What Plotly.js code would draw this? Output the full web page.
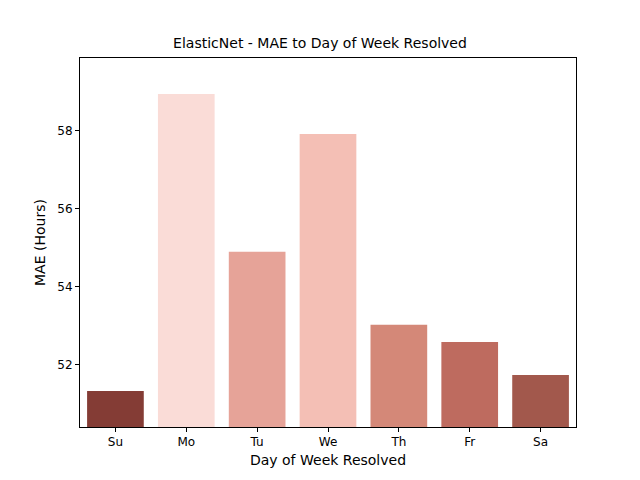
<!DOCTYPE html>
<html>
<head>
<meta charset="utf-8">
<script src="https://cdn.plot.ly/plotly-3.0.1.min.js"></script>
<style>body{margin:0;}#plot{width:640px;height:480px;}</style>
</head>
<body>
<div id="plot"></div>
<script>
const days = ['Su', 'Mo', 'Tu', 'We', 'Th', 'Fr', 'Sa'];
const mae = [51.33, 58.95, 54.90, 57.92, 53.03, 52.59, 51.74];
const barColors = ['#843c35', '#fadcd7', '#e6a398', '#f4bfb5', '#d48878', '#be6b5f', '#a2584c'];

const trace = {
    x: days,
    y: mae,
    type: 'bar',
    width: 0.8,
    marker: {color: barColors}
};

const layout = {
    width: 640,
    height: 480,
    margin: {l: 80, r: 64, t: 58, b: 53},
    font: {family: 'DejaVu Sans', size: 12, color: '#000'},
    title: {text: 'ElasticNet - MAE to Day of Week Resolved', font: {size: 14}, x: 0.5, y: 0.91, yanchor: 'middle'},
    showlegend: false,
    plot_bgcolor: '#fff',
    xaxis: {
        title: {text: 'Day of Week Resolved', standoff: 6},
        showline: true, mirror: true, linecolor: '#000', linewidth: 1,
        ticks: 'outside', ticklen: 4, tickcolor: '#000', showgrid: false
    },
    yaxis: {
        title: {text: 'MAE (Hours)', standoff: 8},
        range: [50.41, 59.87],
        tickvals: [52, 54, 56, 58],
        showline: true, mirror: true, linecolor: '#000', linewidth: 1,
        ticks: 'outside', ticklen: 4, tickcolor: '#000', showgrid: false, zeroline: false
    }
};

Plotly.newPlot('plot', [trace], layout, {displayModeBar: false});
</script>
</body>
</html>
